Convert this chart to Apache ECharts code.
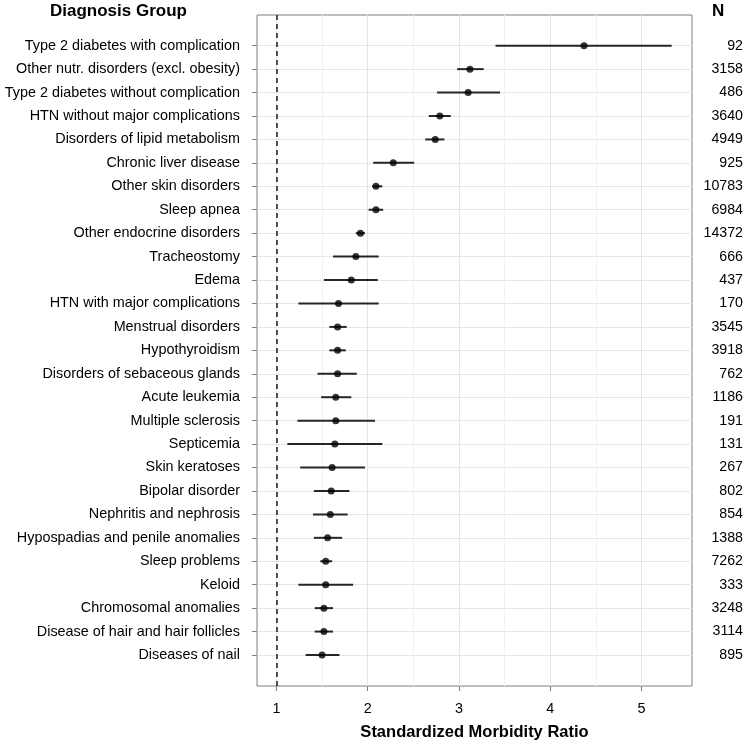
<!DOCTYPE html>
<html>
<head>
<meta charset="utf-8">
<script src="https://cdn.jsdelivr.net/npm/echarts@6/dist/echarts.min.js"></script>
<style>
html,body{margin:0;padding:0;background:#fff;}
#chart{width:747px;height:746px;}
</style>
</head>
<body>
<div id="chart"></div>
<script>
const categories = [
  'Type 2 diabetes with complication',
  'Other nutr. disorders (excl. obesity)',
  'Type 2 diabetes without complication',
  'HTN without major complications',
  'Disorders of lipid metabolism',
  'Chronic liver disease',
  'Other skin disorders',
  'Sleep apnea',
  'Other endocrine disorders',
  'Tracheostomy',
  'Edema',
  'HTN with major complications',
  'Menstrual disorders',
  'Hypothyroidism',
  'Disorders of sebaceous glands',
  'Acute leukemia',
  'Multiple sclerosis',
  'Septicemia',
  'Skin keratoses',
  'Bipolar disorder',
  'Nephritis and nephrosis',
  'Hypospadias and penile anomalies',
  'Sleep problems',
  'Keloid',
  'Chromosomal anomalies',
  'Disease of hair and hair follicles',
  'Diseases of nail'
];
const smr   = [4.37, 3.12, 3.10, 2.79, 2.74, 2.28, 2.09, 2.09, 1.92, 1.87, 1.82, 1.68, 1.67, 1.67, 1.67, 1.65, 1.65, 1.64, 1.61, 1.60, 1.59, 1.56, 1.54, 1.54, 1.52, 1.52, 1.50];
const lower = [3.40, 2.98, 2.76, 2.67, 2.63, 2.06, 2.05, 2.01, 1.87, 1.62, 1.52, 1.24, 1.58, 1.58, 1.45, 1.49, 1.23, 1.12, 1.26, 1.41, 1.40, 1.41, 1.48, 1.24, 1.42, 1.42, 1.32];
const upper = [5.33, 3.27, 3.45, 2.91, 2.84, 2.51, 2.16, 2.17, 1.97, 2.12, 2.11, 2.12, 1.77, 1.76, 1.88, 1.82, 2.08, 2.16, 1.97, 1.80, 1.78, 1.72, 1.61, 1.84, 1.62, 1.62, 1.69];
const nCounts = ['92','3158','486','3640','4949','925','10783','6984','14372','666','437','170','3545','3918','762','1186','191','131','267','802','854','1388','7262','333','3248','3114','895'];
const xTicks = [1, 2, 3, 4, 5];
const minorGrid = [1.5, 2.5, 3.5, 4.5];
const refValue = 1;
const xMin = 0.787, xMax = 5.553;

const FONT = '"Liberation Sans", Arial, Helvetica, sans-serif';
const chart = echarts.init(document.getElementById('chart'), null, {renderer: 'canvas'});

const errData = categories.map((c, i) => [lower[i], upper[i], i]);
const ptData = categories.map((c, i) => [smr[i], i]);

const option = {
  animation: false,
  backgroundColor: '#fff',
  textStyle: {fontFamily: FONT},
  title: [
    {text: 'Diagnosis Group', left: 50, top: 3, padding: 0,
     textStyle: {fontFamily: FONT, fontSize: 17, fontWeight: 'bold', color: '#000'}},
    {text: 'N', left: 712, top: 3, padding: 0,
     textStyle: {fontFamily: FONT, fontSize: 17, fontWeight: 'bold', color: '#000'}}
  ],
  grid: [
    {left: 257, right: 55, top: 15, bottom: 60, show: true, borderColor: '#7f7f7f', borderWidth: 1, backgroundColor: '#fff'},
    {left: 257, right: 55, top: 45.7, bottom: 91, show: false}
  ],
  xAxis: [
    {type: 'value', gridIndex: 0, min: xMin, max: xMax,
     axisLine: {show: false},
     axisTick: {show: true, length: 5, lineStyle: {color: '#7f7f7f'}, customValues: xTicks},
     axisLabel: {show: true, customValues: xTicks, fontSize: 14.4, color: '#000', margin: 16, fontFamily: FONT,
       formatter: v => (Math.abs(v - Math.round(v)) < 1e-6 ? String(Math.round(v)) : '')},
     splitLine: {show: true, lineStyle: {color: '#e6e6e6', width: 1}},
     name: 'Standardized Morbidity Ratio', nameLocation: 'middle', nameGap: 38,
     nameTextStyle: {fontFamily: FONT, fontSize: 16.5, fontWeight: 'bold', color: '#000'}},
    {type: 'value', gridIndex: 1, min: xMin, max: xMax, show: false}
  ],
  yAxis: [
    {type: 'value', gridIndex: 0, min: 0, max: 1, show: false},
    {type: 'category', gridIndex: 1, data: categories, inverse: true, boundaryGap: false,
     axisLine: {show: false},
     axisTick: {show: true, length: 5, lineStyle: {color: '#7f7f7f'}},
     axisLabel: {fontSize: 14.4, color: '#000', margin: 17, fontFamily: FONT, interval: 0},
     splitLine: {show: true, lineStyle: {color: '#e6e6e6', width: 1}}},
    {type: 'category', gridIndex: 1, data: nCounts, inverse: true, boundaryGap: false, position: 'right',
     axisLine: {show: false}, axisTick: {show: false}, splitLine: {show: false},
     axisLabel: {fontSize: 14.2, color: '#000', margin: 51, align: 'right', fontFamily: FONT, interval: 0}}
  ],
  series: [
    {type: 'line', xAxisIndex: 0, yAxisIndex: 0, data: [], z: 0, silent: true,
     markLine: {silent: true, z: 0, symbol: 'none', label: {show: false},
       lineStyle: {color: '#f0f0f0', type: 'solid', width: 1},
       data: minorGrid.map(v => ({xAxis: v}))}},
    {type: 'custom', xAxisIndex: 1, yAxisIndex: 1, data: errData, z: 3,
     encode: {x: [0, 1], y: 2},
     renderItem: function (params, api) {
       const y = api.value(2);
       const p1 = api.coord([api.value(0), y]);
       const p2 = api.coord([api.value(1), y]);
       return {type: 'line', shape: {x1: p1[0], y1: p1[1], x2: p2[0], y2: p2[1]},
               style: {stroke: '#262626', lineWidth: 2}};
     }},
    {type: 'scatter', xAxisIndex: 1, yAxisIndex: 1, data: ptData, z: 4,
     symbol: 'circle', symbolSize: 7, itemStyle: {color: '#000'}},
    {type: 'line', xAxisIndex: 0, yAxisIndex: 0, data: [], z: 5, silent: true,
     markLine: {silent: true, z: 5, symbol: 'none', label: {show: false},
       lineStyle: {color: '#1a1a1a', type: [5, 4], width: 1.5},
       data: [{xAxis: refValue}]}}
  ]
};
chart.setOption(option);
</script>
</body>
</html>
